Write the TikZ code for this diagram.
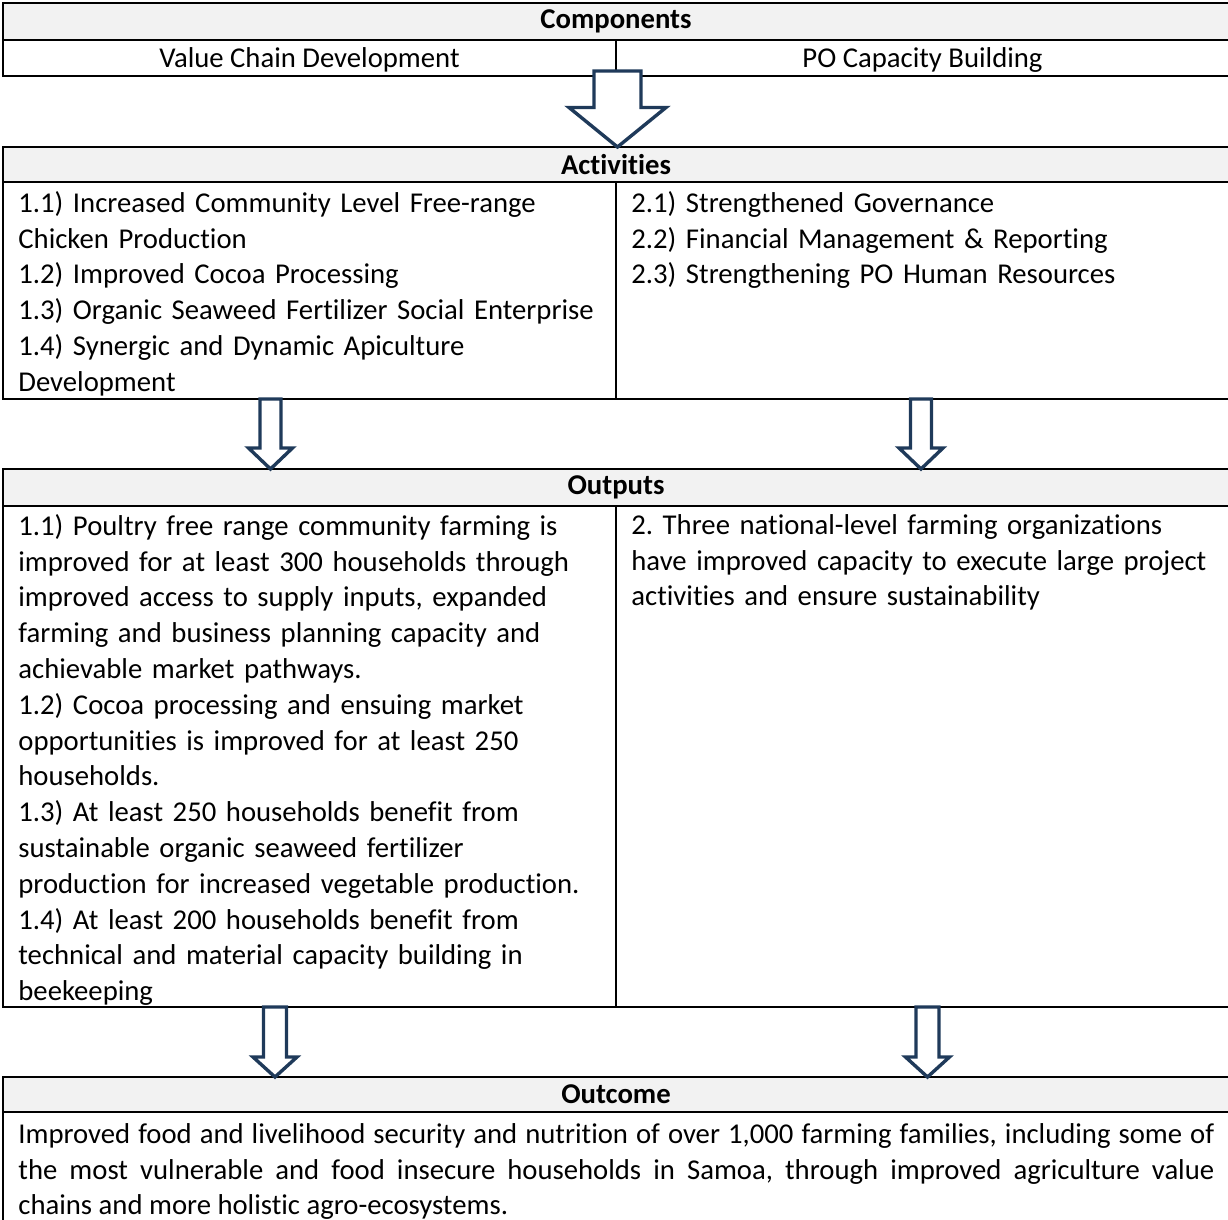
\documentclass[tikz,border=0pt]{standalone}
\usepackage{fontspec}
\setmainfont{Carlito}[Ligatures=NoCommon]
\frenchspacing
\usetikzlibrary{calc, positioning}
\definecolor{hdrFill}{HTML}{F2F2F2}
\definecolor{arrowEdge}{HTML}{1F3A5A}
\newcommand{\cellfont}{\fontsize{14.35}{17.9}\selectfont}
\tikzset{
  tblhead/.style={
    rectangle, draw=black, line width=0.9pt, fill=hdrFill, anchor=north west,
    minimum width=613pt, minimum height=18pt, inner sep=0pt, outer sep=0pt,
    font=\cellfont\bfseries
  },
  tblbody/.style={
    rectangle, draw=black, line width=0.9pt, anchor=north west,
    minimum width=613pt, inner sep=0pt, outer sep=0pt
  },
  tblline/.style={draw=black, line width=0.9pt},
  tblframe/.style={draw=black, line width=1.4pt},
  celltext/.style={anchor=north west, inner sep=0pt, text width=296pt, align=left},
  blk/.style={draw=arrowEdge, line width=1.7pt, fill=white, line join=miter}
}
% block arrow pointing down: x coordinate, top, tip, shaft half, head half, head length
\newcommand{\blockdown}[6]{%
  \draw[blk] ($(#1|-#2)+(-#4,0)$) -- ($(#1|-#2)+(#4,0)$) -- ($(#1|-#3)+(#4,-#6)$)
    -- ($(#1|-#3)+(#5,-#6)$) -- (#1|-#3) -- ($(#1|-#3)+(-#5,-#6)$)
    -- ($(#1|-#3)+(-#4,-#6)$) -- cycle;}

\begin{document}
\begin{tikzpicture}[x=0.5pt, y=-0.5pt, font=\cellfont]
\useasboundingbox (0,0) rectangle (1228,1220);
\clip (0,0) rectangle (1228,1220);

% ---------------- Components ----------------
\node[tblhead, minimum height=18.5pt] (comphd) at (3,3) {Components};
\node[tblbody, minimum height=18pt] (compbody) at (comphd.south west) {};
\draw[tblline] (compbody.north) -- (compbody.south);
\draw[tblframe] (comphd.north west) rectangle (compbody.south east);
\node (vcd) at ($(compbody.west)!0.25!(compbody.east)+(0,2)$) {Value Chain Development};
\node (pocb) at ($(compbody.west)!0.75!(compbody.east)+(0,2)$) {PO Capacity Building};

% ---------------- Activities ----------------
\node[tblhead, minimum height=17.5pt, below=35.5pt of compbody.south west, anchor=north west] (acthd) {Activities};
\node[tblbody, minimum height=108.5pt] (actbody) at (acthd.south west) {};
\draw[tblline] (actbody.north) -- (actbody.south);
\draw[tblframe] (acthd.north west) rectangle (actbody.south east);
\node[celltext] (actL) at ($(actbody.north west)+(15,9)$) {1.1) Increased Community Level Free-range\\
  Chicken Production\\
  1.2) Improved Cocoa Processing\\
  1.3) Organic Seaweed Fertilizer Social Enterprise\\
  1.4) Synergic and Dynamic Apiculture\\
  Development};
\node[celltext] (actR) at ($(actbody.north)+(15,9)$) {2.1) Strengthened Governance\\
  2.2) Financial Management \& Reporting\\
  2.3) Strengthening PO Human Resources};

% ---------------- Outputs ----------------
\node[tblhead, minimum height=18.5pt, below=35pt of actbody.south west, anchor=north west] (outhd) {Outputs};
\node[tblbody, minimum height=250.5pt] (outbody) at (outhd.south west) {};
\draw[tblline] (outbody.north) -- (outbody.south);
\draw[tblframe] (outhd.north west) rectangle (outbody.south east);
\node[celltext] (outL) at ($(outbody.north west)+(15,8)$) {1.1) Poultry free range community farming is\\
  improved for at least 300 households through\\
  improved access to supply inputs, expanded\\
  farming and business planning capacity and\\
  achievable market pathways.\\
  1.2) Cocoa processing and ensuing market\\
  opportunities is improved for at least 250\\
  households.\\
  1.3) At least 250 households benefit from\\
  sustainable organic seaweed fertilizer\\
  production for increased vegetable production.\\
  1.4) At least 200 households benefit from\\
  technical and material capacity building in\\
  beekeeping};
\node[celltext] (outR) at ($(outbody.north)+(15,8)$) {2. Three national-level farming organizations\\
  have improved capacity to execute large project\\
  activities and ensure sustainability};

% ---------------- Outcome ----------------
\node[tblhead, minimum height=17.5pt, below=35pt of outbody.south west, anchor=north west] (ochd) {Outcome};
\node[tblbody, minimum height=70pt] (ocbody) at (ochd.south west) {};
\draw[tblframe] (ochd.north west) rectangle (ocbody.south east);
\node[anchor=north west, inner sep=0pt, text width=598pt, align=justify] (octxt)
  at ($(ocbody.north west)+(15,11)$) {Improved food and livelihood security and nutrition of over 1,000 farming families, including some of\linebreak
  the most vulnerable and food insecure households in Samoa, through improved agriculture value\linebreak
  chains and more holistic agro-ecosystems.};

% ---------------- Block arrows ----------------
\coordinate (bigtop) at ($(compbody.south)+(0,-5)$);
\coordinate (xmid) at (617.5,0);
\coordinate (xla) at (270.5,0);
\coordinate (xra) at (921,0);
\coordinate (xlb) at (275,0);
\coordinate (xrb) at (927.5,0);
\blockdown{xmid}{bigtop}{acthd.north}{23.5}{48.5}{39.5}
\blockdown{xla}{actbody.south}{outhd.north}{10.5}{22}{21}
\blockdown{xra}{actbody.south}{outhd.north}{10.5}{22}{21}
\blockdown{xlb}{outbody.south}{ochd.north}{11.5}{22}{20}
\blockdown{xrb}{outbody.south}{ochd.north}{11.5}{22}{20}

\end{tikzpicture}
\end{document}
